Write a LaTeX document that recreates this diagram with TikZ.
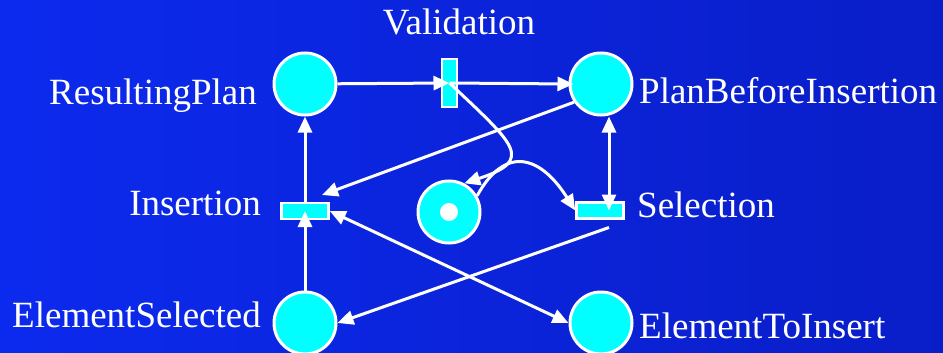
\documentclass[tikz,border=0pt]{standalone}
\usepackage{fontspec}
\setmainfont{Liberation Serif}
\usepackage{tikz}
\usetikzlibrary{calc, positioning, arrows.meta}
\definecolor{slideL}{RGB}{12,42,238}
\definecolor{slideR}{RGB}{10,30,200}
\definecolor{netcyan}{RGB}{0,255,255}
\tikzset{
    place/.style={circle, draw=white, line width=3pt, fill=netcyan, minimum size=62pt, inner sep=0pt},
    token/.style={circle, fill=white, minimum size=18pt, inner sep=0pt},
    vtrans/.style={rectangle, draw=white, line width=2.5pt, fill=netcyan, minimum width=15pt, minimum height=48pt, inner sep=0pt},
    htrans/.style={rectangle, draw=white, line width=2.5pt, fill=netcyan, minimum width=47pt, minimum height=16pt, inner sep=0pt},
    lbl/.style={text=white, font=\fontsize{37}{40}\selectfont, inner sep=0pt},
    arc/.style={-{Triangle[length=16pt, width=14pt]}, white, line width=3pt},
    biarc/.style={{Triangle[length=16pt, width=14pt]}-{Triangle[length=16pt, width=14pt]}, white, line width=3pt}
}

\begin{document}
\begin{tikzpicture}[x=1pt, y=-1pt]
    % Slide background
    \fill[left color=slideL, right color=slideR] (0,0) rectangle (943,353);
    \useasboundingbox (0,0) rectangle (943,353);

    % Places
    \node[place] (rplan) at (305,84) {};
    \node[place] (pbi) at (601,84) {};
    \node[place] (ctrl) at (449,212) {};
    \node[token] (tokn) at (ctrl) {};
    \node[place] (esel) at (305,323) {};
    \node[place] (etoi) at (601,323) {};

    % Transitions
    \node[vtrans] (valid) at (449.5,83) {};
    \node[htrans] (ins) at (305,211) {};
    \node[htrans] (sel) at (600,210.5) {};

    % Labels
    \node[lbl, anchor=base] (validL) at (459,35) {Validation};
    \node[lbl, anchor=base east] (rplanL) at (257,104) {ResultingPlan};
    \node[lbl, anchor=base west] (pbiL) at (639,103) {PlanBeforeInsertion};
    \node[lbl, anchor=base east] (insL) at (261,215) {Insertion};
    \node[lbl, anchor=base west] (selL) at (637,217) {Selection};
    \node[lbl, anchor=base east] (eselL) at (261,327) {ElementSelected};
    \node[lbl, anchor=base west] (etoiL) at (639,338) {ElementToInsert};

    % Arcs
    \draw[arc] (rplan) -- (valid.center);
    \draw[arc, shorten >=-5pt] (valid.center) -- (pbi.west);
    \draw[arc] (valid.center) .. controls (515,145) and (535,160) .. (ctrl.62);
    \draw[arc] (ctrl.30) .. controls (505,145) and (540,155) .. (sel.west);
    \draw[biarc] ([xshift=8pt]pbi.south) -- ([xshift=9pt]sel.center);
    \draw[arc] (pbi.214) -- ([shift={(17,-16)}]ins.center);
    \draw[arc] (esel.north) -- (ins.center);
    \draw[arc] (ins.north) -- (rplan.south);
    \draw[biarc] (ins.east) -- (etoi.west);
    \draw[arc] ([shift={(9,17)}]sel.center) -- (esel.east);
\end{tikzpicture}
\end{document}
